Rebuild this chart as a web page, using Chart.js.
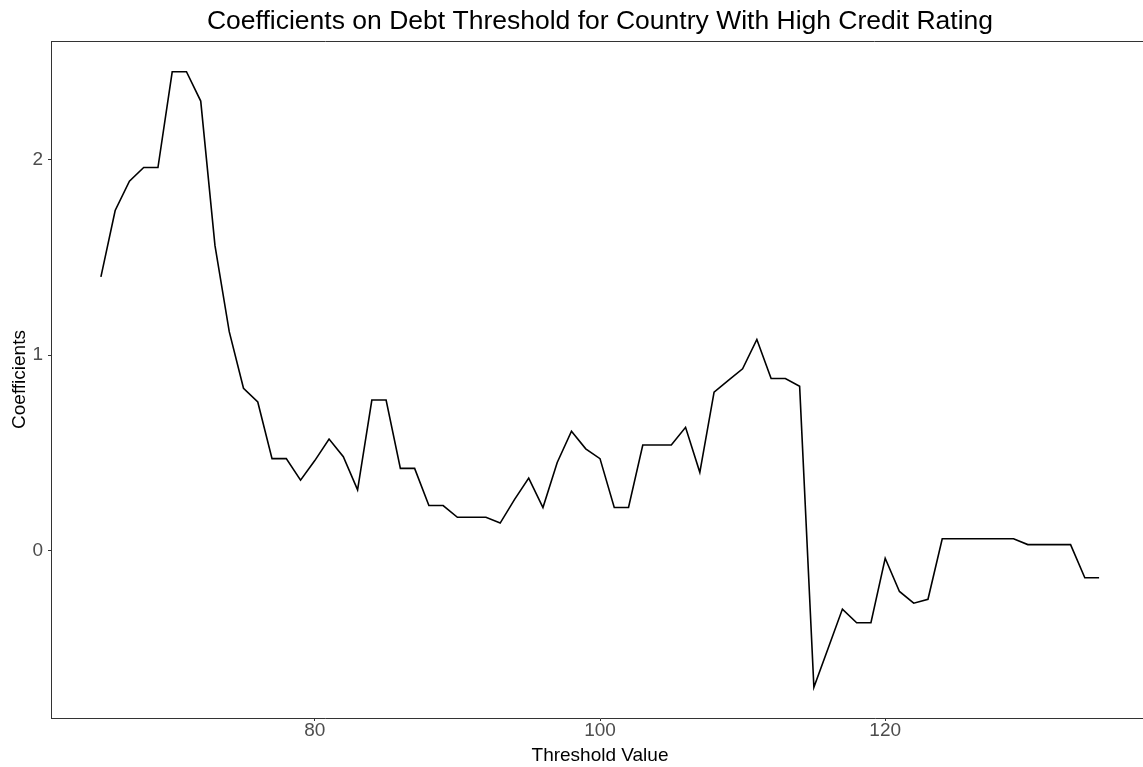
<!DOCTYPE html>
<html>
<head>
<meta charset="utf-8">
<title>Coefficients on Debt Threshold</title>
<script src="https://cdn.jsdelivr.net/npm/chart.js@4"></script>
<style>
  html, body { margin: 0; padding: 0; background: #fff; overflow: hidden; }
  /* the panel runs a little past the right edge of the window, as in the reference */
  #wrap { width: 1149px; height: 767px; position: relative; }
</style>
</head>
<body>
<div id="wrap"><canvas id="coefChart"></canvas></div>
<script>
// threshold values (x) and estimated coefficients (y)
const thresholds = [
  65, 66, 67, 68, 69, 70, 71, 72, 73, 74,
  75, 76, 77, 78, 79, 80, 81, 82, 83, 84,
  85, 86, 87, 88, 89, 90, 91, 92, 93, 94,
  95, 96, 97, 98, 99, 100, 101, 102, 103, 104,
  105, 106, 107, 108, 109, 110, 111, 112, 113, 114,
  115, 116, 117, 118, 119, 120, 121, 122, 123, 124,
  125, 126, 127, 128, 129, 130, 131, 132, 133, 134,
  135
];
const coefficients = [
  1.40, 1.74, 1.89, 1.96, 1.96, 2.45, 2.45, 2.30, 1.56, 1.12,
  0.83, 0.76, 0.47, 0.47, 0.36, 0.46, 0.57, 0.48, 0.31, 0.77,
  0.77, 0.42, 0.42, 0.23, 0.23, 0.17, 0.17, 0.17, 0.14, 0.26,
  0.37, 0.22, 0.45, 0.61, 0.52, 0.47, 0.22, 0.22, 0.54, 0.54,
  0.54, 0.63, 0.40, 0.81, 0.87, 0.93, 1.08, 0.88, 0.88, 0.84,
  -0.70, -0.50, -0.30, -0.37, -0.37, -0.04, -0.21, -0.27, -0.25, 0.06,
  0.06, 0.06, 0.06, 0.06, 0.06, 0.03, 0.03, 0.03, 0.03, -0.14,
  -0.14
];
const xTicks = [80, 100, 120];
const yTicks = [0, 1, 2];

const chartTitle = 'Coefficients on Debt Threshold for Country With High Credit Rating';
const xTitle = 'Threshold Value';
const yTitle = 'Coefficients';

const axisColor = '#333333';
const tickTextColor = '#4d4d4d';
const fontFamily = '"Liberation Sans", Arial, Helvetica, sans-serif';

// ggplot style 5% expansion of the data range
function expand(values) {
  const lo = Math.min(...values), hi = Math.max(...values);
  const pad = (hi - lo) * 0.05;
  return { min: lo - pad, max: hi + pad };
}
const xRange = expand(thresholds);
const yRange = expand(coefficients);

const points = thresholds.map((t, i) => ({ x: t, y: coefficients[i] }));

// top line of the panel
const topLine = {
  id: 'topLine',
  afterDraw(chart) {
    const { ctx, chartArea } = chart;
    ctx.save();
    ctx.strokeStyle = axisColor;
    ctx.lineWidth = 1;
    ctx.beginPath();
    ctx.moveTo(chartArea.left, chartArea.top + 0.5);
    ctx.lineTo(chartArea.right, chartArea.top + 0.5);
    ctx.stroke();
    ctx.restore();
  }
};

new Chart(document.getElementById('coefChart'), {
  type: 'line',
  data: {
    datasets: [{
      data: points,
      borderColor: '#000000',
      borderWidth: 1.6,
      pointRadius: 0,
      tension: 0,
      fill: false
    }]
  },
  options: {
    responsive: true,
    maintainAspectRatio: false,
    animation: false,
    layout: { padding: 0 },
    plugins: {
      legend: { display: false },
      tooltip: { enabled: false },
      title: {
        display: true,
        text: chartTitle,
        fullSize: false,
        color: '#000000',
        font: { family: fontFamily, size: 26.5, weight: 'normal', lineHeight: 1.2 },
        padding: { top: 5.5, bottom: 3.7 }
      }
    },
    scales: {
      x: {
        type: 'linear',
        min: xRange.min,
        max: xRange.max,
        afterBuildTicks: s => { s.ticks = xTicks.map(v => ({ value: v })); },
        afterFit: s => { s.height = 49; },
        border: { display: true, color: axisColor, width: 1 },
        grid: { display: true, drawOnChartArea: false, drawTicks: true, tickLength: 3, color: axisColor },
        ticks: {
          color: tickTextColor,
          padding: 0,
          maxRotation: 0,
          font: { family: fontFamily, size: 19, lineHeight: 1 }
        },
        title: {
          display: true,
          text: xTitle,
          color: '#000000',
          font: { family: fontFamily, size: 19, lineHeight: 1.2 },
          padding: { top: 0, bottom: 0 }
        }
      },
      y: {
        min: yRange.min,
        max: yRange.max,
        afterBuildTicks: s => { s.ticks = yTicks.map(v => ({ value: v })); },
        afterFit: s => { s.width = 51; },
        border: { display: true, color: axisColor, width: 1 },
        grid: { display: true, drawOnChartArea: false, drawTicks: true, tickLength: 3, color: axisColor },
        ticks: {
          color: tickTextColor,
          padding: 5,
          font: { family: fontFamily, size: 19, lineHeight: 1 }
        },
        title: {
          display: true,
          text: yTitle,
          color: '#000000',
          font: { family: fontFamily, size: 19, lineHeight: 1.2 },
          padding: { top: 8, bottom: 0 }
        }
      }
    }
  },
  plugins: [topLine]
});
</script>
</body>
</html>
